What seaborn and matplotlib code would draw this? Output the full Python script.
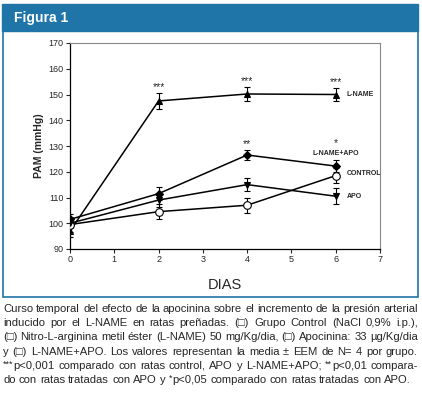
import seaborn as sns
import pandas as pd
import matplotlib.pyplot as plt
from matplotlib.patches import Rectangle

dias = [0, 2, 4, 6]
lname = [97.0, 147.5, 150.2, 150.0]
lname_err = [2.5, 3.0, 2.7, 2.7]
lname_apo = [101.5, 111.5, 126.5, 122.2]
lname_apo_err = [2.0, 2.5, 2.0, 2.2]
control = [99.5, 104.5, 107.0, 118.5]
control_err = [3.0, 3.0, 3.0, 2.8]
apo = [100.0, 109.0, 115.0, 110.5]
apo_err = [2.0, 2.5, 2.5, 3.0]
grupos = ['L-NAME', 'L-NAME+APO', 'CONTROL', 'APO']
marcadores = {'L-NAME': '^', 'L-NAME+APO': 'D', 'CONTROL': 'o', 'APO': 'v'}
signif = {(2, 'L-NAME'): '***', (4, 'L-NAME'): '***', (6, 'L-NAME'): '***',
          (4, 'L-NAME+APO'): '**', (6, 'L-NAME+APO'): '*'}

valores = {'L-NAME': (lname, lname_err), 'L-NAME+APO': (lname_apo, lname_apo_err),
           'CONTROL': (control, control_err), 'APO': (apo, apo_err)}
filas = []
for g in grupos:
    for d, v, e in zip(dias, *valores[g]):
        filas.append({'dia': d, 'pam': v, 'eem': e, 'grupo': g})
df = pd.DataFrame(filas)

sns.set_style('white')
plt.rcParams['font.family'] = ['Liberation Sans', 'DejaVu Sans']
fig = plt.figure(figsize=(4.22, 3.96), dpi=100)

azul = '#1f74a8'
fig.patches.append(Rectangle((2/422, 1-31/396), 416/422, 27/396, transform=fig.transFigure,
                             facecolor=azul, edgecolor=azul, zorder=0))
fig.patches.append(Rectangle((2.5/422, 1-297/396), 415/422, 266/396, transform=fig.transFigure,
                             facecolor='none', edgecolor=azul, lw=1.2, zorder=0))
fig.text(14/422, 1-18/396, 'Figura 1', color='white', fontsize=10, fontweight='bold', va='center')

ax = fig.add_axes([70/422, 1-249/396, 310/422, 206/396])
for g in grupos:
    sub = df[df.grupo == g]
    ax.errorbar(sub.dia, sub.pam, yerr=sub.eem, fmt='none', ecolor='black', elinewidth=0.8,
                capsize=2.5, capthick=0.8, zorder=2)
sns.lineplot(data=df, x='dia', y='pam', hue='grupo', style='grupo', markers=marcadores,
             dashes=False, palette=['black'] * 4, markersize=5, linewidth=1.1,
             legend=False, ax=ax, zorder=3)
for ln in ax.lines:
    if ln.get_marker() == 'D':
        ln.set_markersize(4.3)
    if ln.get_marker() == 'o':
        ln.set_markerfacecolor('white')
        ln.set_markersize(5.5)
    ln.set_markeredgecolor('black')
    ln.set_markeredgewidth(0.8)

for (d, g), txt in signif.items():
    v, e = valores[g]
    i = dias.index(d)
    extra = 4.6 if (d, g) == (6, 'L-NAME+APO') else 0.3
    ax.text(d, v[i] + e[i] + extra, txt, ha='center', va='bottom', fontsize=7.5)

ax.text(6.25, 150, 'L-NAME', fontsize=5, fontweight='bold', va='center')
ax.text(6.0, 127.0, 'L-NAME+APO', fontsize=5, fontweight='bold', va='center', ha='center')
ax.text(6.25, 119.5, 'CONTROL', fontsize=5, fontweight='bold', va='center')
ax.text(6.25, 110.5, 'APO', fontsize=5, fontweight='bold', va='center')

ax.set_xlim(0, 7)
ax.set_ylim(90, 170)
ax.set_xticks(range(0, 8))
ax.set_yticks(range(90, 171, 10))
ax.tick_params(axis='both', labelsize=6.5, direction='out', length=3, width=0.8,
               left=True, bottom=True, pad=1.5)
for s in ['left', 'bottom']:
    ax.spines[s].set_color('black')
    ax.spines[s].set_linewidth(0.9)
for s in ['top', 'right']:
    ax.spines[s].set_color('#888888')
    ax.spines[s].set_linewidth(0.8)
ax.set_xlabel('DIAS', fontsize=10.5, labelpad=10)
ax.set_ylabel('PAM (mmHg)', fontsize=7.5, fontweight='bold', labelpad=3)

lineas = [
    'Curso temporal del efecto de la apocinina sobre el incremento de la presión arterial',
    'inducido por el L-NAME en ratas preñadas. (\u25a1) Grupo Control (NaCl 0,9% i.p.),',
    '(\u25a1) Nitro-L-arginina metil éster (L-NAME) 50 mg/Kg/dia, (\u25a1) Apocinina: 33 µg/Kg/dia',
    'y (\u25a1) L-NAME+APO. Los valores representan la media ± EEM de N= 4 por grupo.',
    '***p<0,001 comparado con ratas control, APO y L-NAME+APO; **p<0,01 compara-',
    'do con ratas tratadas con APO y *p<0,05 comparado con ratas tratadas con APO.',
]

# texto justificado: cada palabra por separado
fig.canvas.draw()
rend = fig.canvas.get_renderer()
x0, x1 = 3, 418
fs = 8.1
for k, linea in enumerate(lineas):
    ypix = round(312 + k * 14.2) - 0.25   # evita saltos de redondeo entre palabras
    palabras = []
    for w in linea.split(' '):
        piezas = []
        if w.startswith('*'):
            n = len(w) - len(w.lstrip('*'))
            piezas.append(fig.text(0, 1-(ypix-2.5)/396, w[:n], fontsize=fs*0.8, va='baseline'))
            w = w[n:]
        piezas.append(fig.text(0, 1-ypix/396, w, fontsize=fs, va='baseline'))
        anchos = [p.get_window_extent(rend).width for p in piezas]
        palabras.append((piezas, anchos))
    total = sum(sum(a) for _, a in palabras)
    espacio_nat = fs * 0.278 * 100 / 72
    if k < len(lineas) - 1:
        gap = (x1 - x0 - total) / (len(palabras) - 1)
    else:
        gap = espacio_nat
    x = x0
    for piezas, anchos in palabras:
        for p, a in zip(piezas, anchos):
            p.set_x(x / 422)
            x += a
        x += gap

fig.savefig('out.png', dpi=100)
